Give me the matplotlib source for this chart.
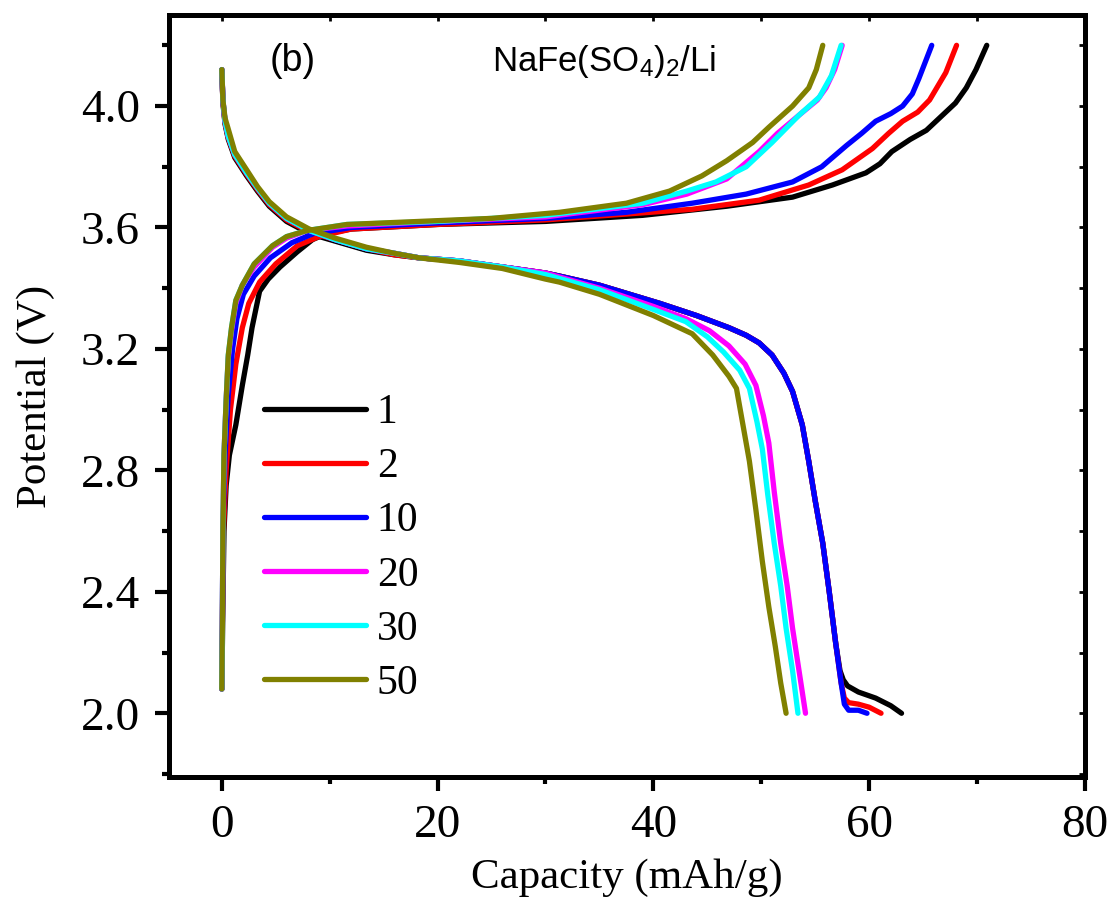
import matplotlib
matplotlib.use("Agg")
import matplotlib.pyplot as plt
from matplotlib.ticker import MultipleLocator

# Galvanostatic charge/discharge profiles of NaFe(SO4)2 vs Li for selected cycles
cycles = ["1", "2", "10", "20", "30", "50"]
colors = ["#000000", "#ff0000", "#0000ff", "#ff00ff", "#00ffff", "#808000"]

# ---- discharge branches (capacity mAh/g, potential V) ----
dis_cap_1 = [0, 0.1, 0.3, 0.6, 1.2, 2.3, 3.3, 4.4, 6.0, 8.1, 10.5, 13.4, 16.0, 18.3, 22, 26, 30, 31.3, 35, 40.6,
             44, 47, 48.6, 49.8, 51.0, 52.1, 52.9, 53.8, 54.4, 55.0, 55.7, 56.3, 56.9, 57.3, 57.6, 58.0, 59.0, 60.6, 62.0, 63.0]
dis_v_1 = [4.12, 4.01, 3.94, 3.89, 3.83, 3.77, 3.72, 3.67, 3.62, 3.58, 3.555, 3.525, 3.51, 3.50, 3.49, 3.47, 3.45, 3.44, 3.41, 3.35,
           3.31, 3.27, 3.245, 3.22, 3.18, 3.12, 3.06, 2.95, 2.83, 2.70, 2.56, 2.40, 2.23, 2.14, 2.11, 2.09, 2.07, 2.05, 2.025, 2.0]

dis_cap_2 = [0, 0.1, 0.3, 0.6, 1.2, 2.3, 3.3, 4.4, 6.0, 8.1, 10.5, 13.4, 16.0, 18.3, 22, 26, 30, 31.3, 35, 40.6,
             44, 47, 48.6, 49.8, 51.0, 52.1, 52.9, 53.8, 54.4, 55.0, 55.7, 56.3, 56.9, 57.4, 57.7, 58.1, 59.0, 60.0, 61.1]
dis_v_2 = [4.12, 4.015, 3.945, 3.895, 3.835, 3.775, 3.725, 3.675, 3.625, 3.585, 3.56, 3.53, 3.51, 3.50, 3.49, 3.47, 3.45, 3.44, 3.41, 3.35,
           3.31, 3.27, 3.245, 3.22, 3.18, 3.12, 3.06, 2.95, 2.83, 2.70, 2.56, 2.40, 2.23, 2.10, 2.05, 2.035, 2.03, 2.02, 2.0]

dis_cap_10 = [0, 0.1, 0.3, 0.6, 1.2, 2.3, 3.3, 4.4, 6.0, 8.1, 10.5, 13.4, 16.0, 18.3, 22, 26, 30, 31.3, 35, 40.6,
              44, 47, 48.6, 49.8, 51.0, 52.1, 52.9, 53.8, 54.4, 55.0, 55.7, 56.3, 56.9, 57.4, 57.7, 58.1, 59.0, 59.8]
dis_v_10 = [4.12, 4.02, 3.95, 3.90, 3.84, 3.78, 3.73, 3.68, 3.63, 3.59, 3.56, 3.53, 3.515, 3.50, 3.49, 3.47, 3.45, 3.44, 3.41, 3.35,
            3.31, 3.27, 3.245, 3.22, 3.18, 3.12, 3.06, 2.95, 2.83, 2.70, 2.56, 2.40, 2.23, 2.10, 2.03, 2.01, 2.01, 2.0]

dis_cap_20 = [0, 0.1, 0.3, 0.6, 1.2, 2.3, 3.3, 4.4, 6.0, 8.1, 10.5, 13.4, 16.0, 18.3, 22, 26, 30, 35, 40,
              43, 45.2, 47, 48.5, 49.5, 50.2, 50.7, 51.2, 51.8, 52.4, 52.9, 53.5, 54.1]
dis_v_20 = [4.12, 4.02, 3.95, 3.90, 3.84, 3.78, 3.73, 3.68, 3.63, 3.59, 3.56, 3.53, 3.515, 3.50, 3.49, 3.47, 3.45, 3.40, 3.34,
            3.30, 3.26, 3.21, 3.15, 3.08, 2.98, 2.89, 2.73, 2.56, 2.42, 2.28, 2.14, 2.0]

dis_cap_30 = [0, 0.1, 0.3, 0.6, 1.2, 2.3, 3.3, 4.4, 6.0, 8.1, 10.5, 13.4, 16.0, 18.3, 22, 26, 30, 35, 40,
              43, 45, 46.5, 48, 48.9, 49.6, 50.1, 50.6, 51.2, 51.8, 52.3, 52.9, 53.4]
dis_v_30 = [4.12, 4.02, 3.95, 3.90, 3.84, 3.78, 3.73, 3.68, 3.63, 3.59, 3.56, 3.53, 3.515, 3.50, 3.49, 3.47, 3.445, 3.395, 3.33,
            3.29, 3.24, 3.19, 3.13, 3.07, 2.96, 2.87, 2.72, 2.56, 2.42, 2.28, 2.14, 2.0]

dis_cap_50 = [0, 0.1, 0.3, 0.55, 1.2, 2.3, 3.3, 4.4, 6.0, 8.1, 10.5, 13.4, 16.0, 18.3, 22, 26, 30, 31.3, 35, 40,
              43.6, 45.5, 47.0, 47.7, 48.3, 48.9, 49.5, 50.1, 50.7, 51.3, 51.8, 52.3]
dis_v_50 = [4.12, 4.02, 3.96, 3.93, 3.85, 3.79, 3.735, 3.685, 3.635, 3.595, 3.565, 3.535, 3.515, 3.50, 3.485, 3.465, 3.43, 3.42, 3.38, 3.31,
            3.25, 3.18, 3.11, 3.07, 2.95, 2.83, 2.67, 2.50, 2.35, 2.22, 2.10, 2.0]

# ---- charge branches (capacity mAh/g, potential V) ----
chg_cap_1 = [0, 0.1, 0.2, 0.4, 0.7, 1.3, 1.9, 2.4, 2.8, 3.5, 4.3, 5.4, 7.0, 8.4, 9.7, 12, 20, 30, 39,
             46.8, 52.9, 56.6, 59.7, 61.0, 62.1, 63.8, 65.3, 66.8, 68.0, 69.0, 69.9, 70.9]
chg_v_1 = [2.08, 2.35, 2.6, 2.75, 2.85, 2.95, 3.08, 3.18, 3.27, 3.39, 3.43, 3.47, 3.52, 3.56, 3.58, 3.595, 3.61, 3.62, 3.64,
           3.67, 3.70, 3.74, 3.78, 3.81, 3.85, 3.89, 3.92, 3.97, 4.01, 4.06, 4.12, 4.2]

chg_cap_2 = [0, 0.05, 0.15, 0.4, 0.8, 1.3, 1.9, 2.5, 3.5, 5.0, 7.0, 9.0, 12, 20, 30, 43.6,
             49.8, 54.4, 57.5, 60.3, 61.8, 63.1, 64.5, 65.6, 67.1, 68.1]
chg_v_2 = [2.08, 2.3, 2.6, 2.8, 3.0, 3.15, 3.27, 3.35, 3.42, 3.48, 3.54, 3.57, 3.595, 3.61, 3.625, 3.66,
           3.69, 3.74, 3.79, 3.86, 3.91, 3.95, 3.98, 4.02, 4.11, 4.2]

chg_cap_10 = [0, 0.05, 0.1, 0.3, 0.6, 1.0, 1.4, 2.0, 3.0, 4.5, 6.5, 8.5, 12, 20, 30, 37.5,
              43.6, 48.6, 52.9, 55.6, 57.9, 59.3, 60.6, 62.0, 63.1, 64.0, 64.6, 65.8]
chg_v_10 = [2.08, 2.3, 2.6, 2.85, 3.05, 3.2, 3.3, 3.38, 3.44, 3.5, 3.55, 3.58, 3.60, 3.615, 3.63, 3.65,
            3.68, 3.71, 3.75, 3.80, 3.87, 3.91, 3.95, 3.975, 4.0, 4.04, 4.09, 4.2]

chg_cap_20 = [0, 0.05, 0.1, 0.2, 0.4, 0.6, 0.9, 1.3, 1.9, 3.0, 4.7, 6.0, 7.9, 11.6, 20, 30, 39,
              43.1, 46.8, 49.8, 51.5, 53.5, 55.2, 56.0, 56.8, 57.5]
chg_v_20 = [2.08, 2.3, 2.6, 2.85, 3.03, 3.17, 3.26, 3.35, 3.41, 3.47, 3.535, 3.565, 3.59, 3.605, 3.62, 3.635, 3.675,
            3.71, 3.76, 3.85, 3.91, 3.97, 4.02, 4.06, 4.12, 4.2]

chg_cap_30 = [0, 0.05, 0.1, 0.2, 0.4, 0.6, 0.9, 1.3, 1.9, 3.0, 4.7, 6.0, 7.9, 11.6, 20, 30, 39,
              43.1, 45.8, 48.6, 51.0, 53.5, 55.4, 56.5, 57.4]
chg_v_30 = [2.08, 2.3, 2.6, 2.85, 3.03, 3.18, 3.27, 3.36, 3.41, 3.48, 3.54, 3.57, 3.59, 3.61, 3.62, 3.64, 3.68,
            3.72, 3.75, 3.80, 3.88, 3.97, 4.03, 4.10, 4.2]

chg_cap_50 = [0, 0.05, 0.1, 0.2, 0.4, 0.6, 0.9, 1.3, 1.9, 3.0, 4.7, 6.0, 7.9, 11.6, 18.3, 25, 31.3, 37.5,
              41.5, 44.5, 46.8, 49.2, 50.7, 52.9, 54.4, 55.1, 55.7]
chg_v_50 = [2.08, 2.3, 2.6, 2.85, 3.03, 3.18, 3.27, 3.36, 3.41, 3.48, 3.54, 3.57, 3.59, 3.61, 3.62, 3.63, 3.65, 3.68,
            3.72, 3.77, 3.82, 3.88, 3.93, 4.0, 4.06, 4.12, 4.2]

discharge = [(dis_cap_1, dis_v_1), (dis_cap_2, dis_v_2), (dis_cap_10, dis_v_10),
             (dis_cap_20, dis_v_20), (dis_cap_30, dis_v_30), (dis_cap_50, dis_v_50)]
charge = [(chg_cap_1, chg_v_1), (chg_cap_2, chg_v_2), (chg_cap_10, chg_v_10),
          (chg_cap_20, chg_v_20), (chg_cap_30, chg_v_30), (chg_cap_50, chg_v_50)]

plt.rcParams["mathtext.fontset"] = "custom"
plt.rcParams["mathtext.rm"] = "Liberation Sans"
plt.rcParams["mathtext.it"] = "Liberation Sans:italic"

fig = plt.figure(figsize=(11.13, 9.07), dpi=100)
ax = fig.add_axes([0.1518, 0.1433, 0.8230, 0.8402])

lw = 3.8
for label, col, (dc, dv), (cc, cv) in zip(cycles, colors, discharge, charge):
    ax.plot(dc, dv, color=col, lw=lw, solid_capstyle="round", solid_joinstyle="round", label=label)
    ax.plot(cc, cv, color=col, lw=lw, solid_capstyle="round", solid_joinstyle="round")

ax.set_xlim(-4.9, 80)
ax.set_ylim(1.79, 4.30)

ax.xaxis.set_major_locator(MultipleLocator(20))
ax.xaxis.set_minor_locator(MultipleLocator(10))
ax.yaxis.set_major_locator(MultipleLocator(0.4))
ax.yaxis.set_minor_locator(MultipleLocator(0.2))
ax.yaxis.set_major_formatter(plt.FuncFormatter(lambda v, p: f"{v:.1f}"))

for s in ax.spines.values():
    s.set_linewidth(3.6)

serif = "Liberation Serif"
ax.tick_params(which="major", direction="out", length=10, width=3, labelsize=34,
               top=False, right=False)
ax.tick_params(axis="x", which="major", pad=10)
ax.tick_params(axis="y", which="major", pad=11)
ax.tick_params(which="minor", direction="out", length=5, width=3, top=False, right=False)
for lab in ax.get_xticklabels() + ax.get_yticklabels():
    lab.set_fontfamily(serif)

# small inward ticks on the opposite spines
sec_x = ax.secondary_xaxis("top")
sec_x.xaxis.set_major_locator(MultipleLocator(20))
sec_x.xaxis.set_minor_locator(MultipleLocator(10))
sec_x.tick_params(which="both", direction="in", length=4, width=2, labeltop=False)
sec_x.spines["top"].set_visible(False)
sec_y = ax.secondary_yaxis("right")
sec_y.yaxis.set_major_locator(MultipleLocator(0.4))
sec_y.yaxis.set_minor_locator(MultipleLocator(0.2))
sec_y.tick_params(which="both", direction="in", length=4, width=2, labelright=False)
sec_y.spines["right"].set_visible(False)

ax.set_xlabel("Capacity (mAh/g)", fontsize=31, fontfamily=serif, labelpad=8)
ax.set_ylabel("Potential (V)", fontsize=31, fontfamily=serif)
ax.yaxis.set_label_coords(-0.124, 0.5)

ax.text(0.110, 0.926, "(b)", transform=ax.transAxes, fontsize=27,
        fontfamily="Liberation Sans", ha="left", va="baseline")
ax.text(0.353, 0.926, r"NaFe(SO$_4$)$_2$/Li", transform=ax.transAxes, fontsize=25,
        fontfamily="Liberation Sans", ha="left", va="baseline")

leg = ax.legend(loc="upper left", bbox_to_anchor=(0.104, 0.503), frameon=False,
                prop={"family": serif, "size": 30}, handlelength=2.45, handletextpad=0.25,
                labelspacing=0.375, borderpad=0, borderaxespad=0)
for h in leg.get_lines():
    h.set_linewidth(3.8)
    h.set_solid_capstyle("round")

fig.savefig("out.png", dpi=100)
